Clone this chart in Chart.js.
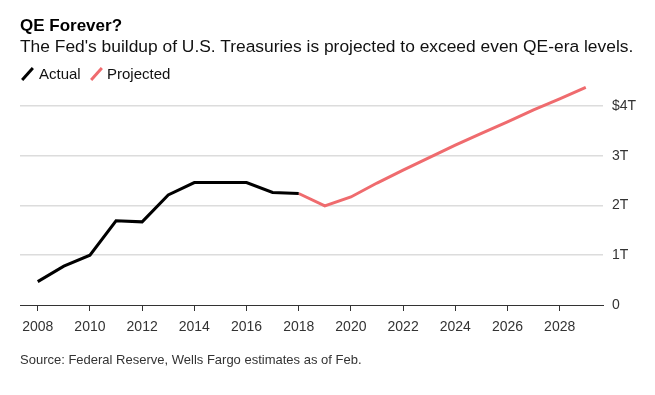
<!DOCTYPE html>
<html>
<head>
<meta charset="utf-8">
<script src="https://cdn.jsdelivr.net/npm/chart.js@4/dist/chart.umd.min.js"></script>
<style>
  body { margin: 0; background: #fff; font-family: "Liberation Sans", Arial, sans-serif; }
  #wrap { position: relative; width: 655px; height: 395px; overflow: hidden; }
  #chart { position: absolute; left: 0; top: 0; }
  .txt { position: absolute; white-space: nowrap; color: #000; line-height: 1; }
  #title { left: 20px; top: 17px; font-size: 17px; font-weight: bold; }
  #sub { left: 20px; top: 38px; font-size: 17.4px; color: #111; }
  .leg { top: 66px; font-size: 15px; color: #111; }
  .sw { position: absolute; top: 66px; width: 3px; height: 16px; transform: rotate(42deg); }
  #source { left: 20px; top: 353px; font-size: 13px; color: #333; }
</style>
</head>
<body>
<div id="wrap">
  <canvas id="chart" width="655" height="395"></canvas>
  <div class="txt" id="title">QE Forever?</div>
  <div class="txt" id="sub">The Fed's buildup of U.S. Treasuries is projected to exceed even QE-era levels.</div>
  <div class="sw" style="left:26px;background:#000"></div>
  <div class="txt leg" style="left:39px">Actual</div>
  <div class="sw" style="left:95px;background:#ef6b6e"></div>
  <div class="txt leg" style="left:107px">Projected</div>
  <div class="txt" id="source">Source: Federal Reserve, Wells Fargo estimates as of Feb.</div>
</div>
<script>
// treasuries held by the Fed, trillions of dollars
const actualYears = [2008, 2009, 2010, 2011, 2012, 2013, 2014, 2015, 2016, 2017, 2018];
const actualValues = [0.47, 0.78, 1.0, 1.69, 1.67, 2.21, 2.46, 2.46, 2.46, 2.26, 2.24];
const projYears = [2018, 2019, 2020, 2021, 2022, 2023, 2024, 2025, 2026, 2027, 2028, 2029];
const projValues = [2.24, 1.99, 2.17, 2.45, 2.71, 2.96, 3.21, 3.45, 3.68, 3.92, 4.14, 4.37];
const xTicks = [2008, 2010, 2012, 2014, 2016, 2018, 2020, 2022, 2024, 2026, 2028];
const yTicks = [0, 1, 2, 3, 4];
const yTickLabels = ['0', '1T', '2T', '3T', '$4T'];

function toPoints(xs, ys) {
    return xs.map((x, i) => ({ x: x, y: ys[i] }));
}

const ctx = document.getElementById('chart').getContext('2d');
new Chart(ctx, {
    type: 'line',
    data: {
        datasets: [{
            label: 'Actual',
            data: toPoints(actualYears, actualValues),
            borderColor: '#000',
            borderWidth: 3,
            pointRadius: 0,
            tension: 0
        }, {
            label: 'Projected',
            data: toPoints(projYears, projValues),
            borderColor: '#ef6b6e',
            borderWidth: 3,
            pointRadius: 0,
            tension: 0
        }]
    },
    options: {
        responsive: false,
        animation: false,
        layout: { padding: { left: 20, top: 81, right: 0, bottom: 0 } },
        plugins: { legend: { display: false }, tooltip: { enabled: false } },
        scales: {
            x: {
                type: 'linear',
                min: 2007.32,
                max: 2029.66,
                afterBuildTicks: (scale) => { scale.ticks = xTicks.map(v => ({ value: v })); },
                afterFit: (scale) => { scale.height = 90; },
                grid: { drawOnChartArea: false, drawTicks: true, tickLength: 6, color: '#333', lineWidth: 1 },
                border: { display: true, color: '#333', width: 1 },
                ticks: {
                    padding: 8,
                    color: '#333',
                    font: { family: '"Liberation Sans", Arial, sans-serif', size: 14 },
                    maxRotation: 0,
                    callback: (v) => String(v)
                }
            },
            y: {
                position: 'right',
                min: 0,
                max: 4.5,
                afterBuildTicks: (scale) => { scale.ticks = yTicks.map(v => ({ value: v })); },
                afterFit: (scale) => { scale.width = 52; },
                grid: {
                    drawTicks: false,
                    color: (c) => c.tick && c.tick.value === 0 ? 'rgba(0,0,0,0)' : '#dcdcdc',
                    lineWidth: 1.5
                },
                border: { display: false },
                ticks: {
                    padding: 9,
                    color: '#333',
                    font: { family: '"Liberation Sans", Arial, sans-serif', size: 14 },
                    callback: (v) => yTickLabels[yTicks.indexOf(v)]
                }
            }
        }
    }
});
</script>
</body>
</html>
